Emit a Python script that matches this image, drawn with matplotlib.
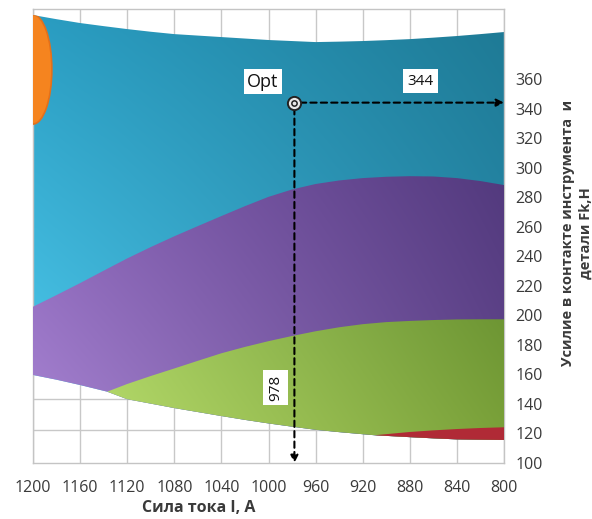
import numpy as np
import matplotlib
matplotlib.use("Agg")
import matplotlib.pyplot as plt
from matplotlib.patches import Polygon, Ellipse
from matplotlib.colors import to_rgb

plt.rcParams['font.family'] = ['Open Sans', 'DejaVu Sans']

# Current I (A): axis ticks
current_ticks = [1200, 1160, 1120, 1080, 1040, 1000, 960, 920, 880, 840, 800]
# Force Fk (N): axis ticks
force_ticks = [100, 120, 140, 160, 180, 200, 220, 240, 260, 280, 300, 320, 340, 360]

# Zone boundaries sampled every 20 A
zone_current = [1200, 1180, 1160, 1140, 1120, 1100, 1080, 1060, 1040, 1020, 1000,
                980, 960, 940, 920, 900, 880, 860, 840, 820, 800]
# upper edge of the response surface
surface_top = [403.3, 400.5, 397.9, 395.8, 393.8, 392.0, 390.4, 389.4, 388.4, 387.4, 386.4,
               385.7, 385.0, 385.3, 385.7, 386.3, 387.0, 388.0, 389.1, 390.4, 391.8]
# boundary between the upper (blue) and middle (violet) zones
blue_violet = [205.8, 213.7, 221.8, 230.2, 238.5, 246.2, 253.5, 260.4, 267.2, 273.9, 280.2,
               285.2, 288.9, 291.3, 292.9, 293.8, 294.2, 294.0, 292.9, 290.9, 288.2]

# Lower edge of the surface
edge_current = [1200, 1180, 1160, 1137, 1120, 1100, 1080, 1060, 1040, 1020, 1000,
                980, 960, 940, 920, 910, 880, 860, 840, 820, 800]
surface_bottom = [159.6, 156.4, 152.8, 148.3, 143.2, 140.2, 137.2, 134.5, 131.8, 129.2, 126.8,
                  124.6, 122.5, 120.9, 119.5, 118.8, 117.5, 116.7, 116.0, 115.8, 115.6]

# Upper boundary of the green zone
green_current = [1137, 1120, 1100, 1080, 1060, 1040, 1020, 1000, 980, 960, 940,
                 920, 900, 880, 860, 840, 820, 800]
green_top = [148.3, 153.5, 158.9, 164.0, 169.2, 174.3, 178.6, 182.5, 186.0, 189.2, 191.9,
             194.0, 195.4, 196.2, 196.8, 197.2, 197.3, 197.3]

# Upper boundary of the red zone
red_current = [910, 880, 860, 840, 820, 800]
red_top = [118.8, 121.0, 122.1, 123.0, 123.7, 124.2]

# Orange zone at the high-current side
orange_center = (1200, 366.5)
orange_half_width = 16
orange_half_height = 37

# Optimum point
opt_current = 978
opt_force = 344

wall_levels = [122.5, 143]

fig = plt.figure(figsize=(5.92, 5.19), dpi=100)
ax = fig.add_axes([33 / 592, 56 / 519, 471 / 592, 454 / 519])

X_LEFT, X_RIGHT = 1200, 800
Y_LOW, Y_HIGH = 100, 407.4


def shaded_region(xs, ys, tl, tr, bl, br, z):
    """Fill a polygon with a bilinear colour gradient (corner colours)."""
    poly = Polygon(np.column_stack([xs, ys]), closed=True,
                   transform=ax.transData, fc='none', ec='none')
    y0, y1 = min(ys), max(ys)
    n = 80
    u = np.linspace(0, 1, n)[None, :, None]
    v = np.linspace(0, 1, n)[:, None, None]
    tl, tr, bl, br = (np.array(to_rgb(c)) for c in (tl, tr, bl, br))
    img = (bl * (1 - u) * (1 - v) + br * u * (1 - v)
           + tl * (1 - u) * v + tr * u * v)
    im = ax.imshow(img, extent=[X_LEFT, X_RIGHT, y0, y1], origin='lower',
                   interpolation='bilinear', aspect='auto', zorder=z)
    im.set_clip_path(poly)
    return poly


# whole surface in blue
surf_x = list(zone_current) + edge_current[::-1]
surf_y = list(surface_top) + surface_bottom[::-1]
surf_poly = shaded_region(surf_x, surf_y, '#2A9DC2', '#1E7A95', '#50CBEE', '#2B8FB2', 2)

# violet zone
vx = list(zone_current) + edge_current[::-1]
vy = list(blue_violet) + surface_bottom[::-1]
shaded_region(vx, vy, '#8A64B8', '#533A7E', '#A784D2', '#63478E', 3)

# green zone
i0 = edge_current.index(1137)
gx = list(green_current) + edge_current[i0:][::-1]
gy = list(green_top) + surface_bottom[i0:][::-1]
shaded_region(gx, gy, '#B2D96A', '#6E9634', '#C0E472', '#7BA23A', 4)

# red zone
i1 = edge_current.index(910)
rx = list(red_current) + edge_current[i1:][::-1]
ry = list(red_top) + surface_bottom[i1:][::-1]
ax.fill(rx, ry, color='#B02A36', lw=0, zorder=5)

# orange zone
orange = Ellipse(orange_center, 2 * orange_half_width, 2 * orange_half_height,
                 fc='#F5841F', ec='#E4701A', lw=1.2, zorder=6)
ax.add_patch(orange)
orange.set_clip_path(surf_poly)

# back walls: vertical grid lines and a few horizontal levels
ax.set_xticks(current_ticks)
ax.set_xticklabels([str(c) for c in current_ticks])
ax.grid(axis='x', color='#C8C8C8', lw=1.0, zorder=0)
for lvl in wall_levels:
    ax.axhline(lvl, color='#C8C8C8', lw=1.0, zorder=0)
ax.set_axisbelow(True)

ax.yaxis.tick_right()
ax.set_yticks(force_ticks)
ax.tick_params(axis='both', length=0, labelsize=11.5, labelcolor='#3A3A3A')
ax.tick_params(axis='x', pad=12)
ax.tick_params(axis='y', pad=8)
for sp in ax.spines.values():
    sp.set_color('#C4C4C4')
    sp.set_linewidth(1.0)

ax.set_xlim(X_LEFT, X_RIGHT)
ax.set_ylim(Y_LOW, Y_HIGH)

# optimum projections
dash = (0, (3, 2))
ax.annotate('', xy=(X_RIGHT, opt_force), xytext=(opt_current, opt_force),
            arrowprops=dict(arrowstyle='-|>', color='black', lw=1.5,
                            linestyle=dash, mutation_scale=11,
                            shrinkA=4, shrinkB=0),
            annotation_clip=False, zorder=8)
ax.annotate('', xy=(opt_current, Y_LOW), xytext=(opt_current, opt_force),
            arrowprops=dict(arrowstyle='-|>', color='black', lw=1.5,
                            linestyle=dash, mutation_scale=11,
                            shrinkA=4, shrinkB=0),
            annotation_clip=False, zorder=8)
ax.plot([opt_current], [opt_force], 'o', ms=9.5, mfc='#E8E8E8', mec='#222222',
        mew=1.4, zorder=9, clip_on=False)
ax.plot([opt_current], [opt_force], 'o', ms=3.8, mfc='none', mec='#222222',
        mew=1.1, zorder=10, clip_on=False)

ax.text(1005, 358.3, 'Opt', ha='center', va='center', fontsize=13,
        color='#111111', zorder=9,
        bbox=dict(boxstyle='square,pad=0.18', fc='white', ec='none'))
ax.text(871, 358.6, f'{opt_force}', ha='center', va='center', fontsize=11,
        color='#111111', zorder=9,
        bbox=dict(boxstyle='square,pad=0.3', fc='white', ec='none'))
ax.text(994, 151, f'{opt_current}', ha='center', va='center', fontsize=11,
        rotation=90, color='#111111', zorder=9,
        bbox=dict(boxstyle='square,pad=0.3', fc='white', ec='none'))

fig.text(199 / 592, 1 - 508 / 519, 'Сила тока I, А', ha='center', va='center',
         fontsize=11.5, fontweight='bold', color='#3A3A3A')
fig.text(577 / 592, 1 - 233 / 519,
         'Усилие в контакте инструмента  и\nдетали Fk,H',
         ha='center', va='center', rotation=90, multialignment='center',
         fontsize=10.5, fontweight='bold', color='#3A3A3A', linespacing=1.4)

fig.savefig('out.png', dpi=100)
